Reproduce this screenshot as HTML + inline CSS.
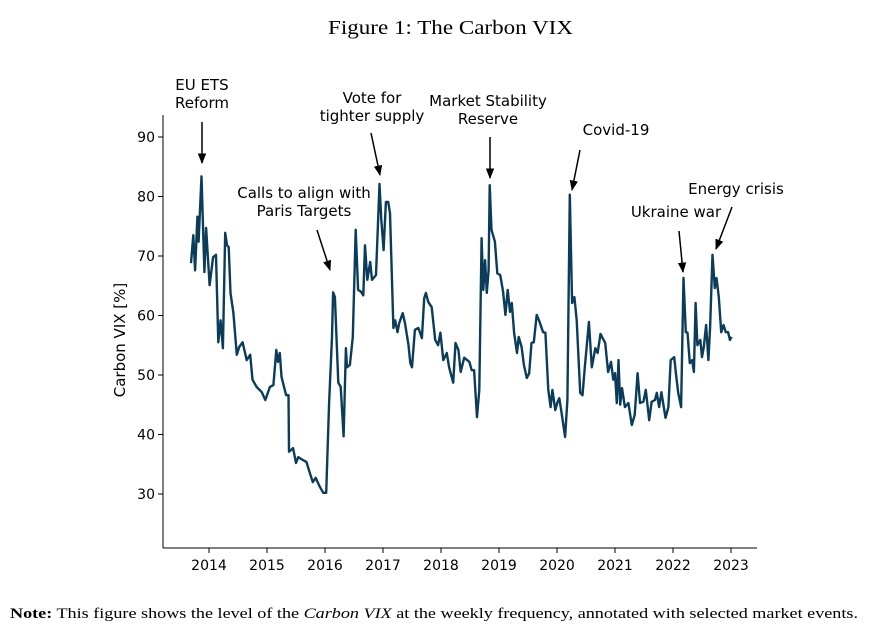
<!DOCTYPE html>
<html><head><meta charset="utf-8"><style>
body{margin:0;background:#fff;width:884px;height:631px;overflow:hidden}
svg text{font-family:"DejaVu Sans","Liberation Sans",sans-serif}
</style></head><body>
<svg id="chart" width="884" height="631" xmlns="http://www.w3.org/2000/svg">
<defs><marker id="ah" viewBox="0 0 10 10" refX="9" refY="5" markerWidth="7" markerHeight="7" orient="auto"><path d="M0,1 L10,5 L0,9 z" fill="#000"/></marker></defs>
<text x="328" y="34" textLength="245" lengthAdjust="spacingAndGlyphs" font-size="20" style="font-family:'Liberation Serif',serif">Figure 1: The Carbon VIX</text>
<g id="axes"></g>
<path id="line" fill="none" stroke="#0b3d5b" stroke-width="2.4" stroke-linejoin="round"/>
<g id="ann" font-size="15" fill="#000" text-anchor="middle"></g>
<text transform="translate(125,340) rotate(-90)" text-anchor="middle" font-size="15">Carbon VIX [%]</text>
<text x="10" y="618" textLength="848" lengthAdjust="spacingAndGlyphs" font-size="15" style="font-family:'Liberation Serif',serif"><tspan font-weight="bold">Note:</tspan> This figure shows the level of the <tspan font-style="italic">Carbon VIX</tspan> at the weekly frequency, annotated with selected market events.</text>
</svg>
<script>
const dates=[2013.69,2013.73,2013.76,2013.80,2013.82,2013.87,2013.92,2013.95,2014.01,2014.07,2014.12,2014.16,2014.20,2014.24,2014.28,2014.31,2014.34,2014.37,2014.42,2014.48,2014.52,2014.58,2014.65,2014.71,2014.75,2014.82,2014.91,2014.97,2015.05,2015.11,2015.16,2015.19,2015.22,2015.25,2015.33,2015.37,2015.38,2015.45,2015.50,2015.54,2015.62,2015.68,2015.74,2015.79,2015.84,2015.91,2015.97,2016.02,2016.07,2016.12,2016.14,2016.17,2016.23,2016.27,2016.32,2016.36,2016.38,2016.43,2016.48,2016.53,2016.57,2016.62,2016.66,2016.69,2016.73,2016.78,2016.81,2016.88,2016.94,2016.97,2017.01,2017.05,2017.09,2017.12,2017.18,2017.21,2017.25,2017.28,2017.34,2017.38,2017.44,2017.47,2017.50,2017.55,2017.61,2017.67,2017.71,2017.74,2017.78,2017.84,2017.90,2017.95,2017.99,2018.04,2018.10,2018.14,2018.21,2018.25,2018.30,2018.34,2018.40,2018.49,2018.53,2018.57,2018.62,2018.66,2018.70,2018.73,2018.76,2018.79,2018.82,2018.84,2018.87,2018.93,2018.97,2019.02,2019.07,2019.11,2019.15,2019.19,2019.22,2019.26,2019.31,2019.34,2019.39,2019.43,2019.48,2019.52,2019.56,2019.60,2019.65,2019.69,2019.76,2019.80,2019.85,2019.89,2019.92,2019.97,2020.01,2020.04,2020.08,2020.14,2020.18,2020.22,2020.26,2020.30,2020.34,2020.40,2020.44,2020.48,2020.55,2020.60,2020.66,2020.70,2020.75,2020.83,2020.88,2020.93,2020.97,2021.00,2021.03,2021.06,2021.09,2021.12,2021.17,2021.23,2021.29,2021.34,2021.39,2021.43,2021.49,2021.53,2021.59,2021.63,2021.69,2021.72,2021.76,2021.80,2021.87,2021.92,2021.96,2022.02,2022.05,2022.09,2022.14,2022.18,2022.22,2022.25,2022.29,2022.33,2022.36,2022.39,2022.42,2022.47,2022.50,2022.53,2022.57,2022.61,2022.64,2022.68,2022.72,2022.75,2022.79,2022.83,2022.87,2022.91,2022.95,2022.98,2023.01];
const vix=[68.8,73.5,67.6,76.6,72.4,83.4,67.3,74.7,65.1,69.8,70.2,55.5,59.2,54.5,73.9,71.8,71.5,63.8,60.4,53.4,54.7,55.5,52.5,53.4,49.2,48.0,47.1,45.8,48.0,48.3,54.2,52.2,53.7,49.7,46.6,46.6,37.1,37.7,35.2,36.2,35.7,35.4,33.5,32.0,32.7,31.2,30.2,30.2,45.3,56.4,63.9,63.1,48.7,48.0,39.7,54.5,51.3,51.7,56.4,74.4,64.3,64.0,63.4,71.8,66.0,69.0,66.0,66.8,82.1,76.1,71.0,79.1,79.1,77.2,57.9,59.2,57.2,58.7,60.4,58.7,55.0,52.0,51.3,57.6,57.9,56.2,62.9,63.8,62.3,61.4,55.9,55.0,57.1,52.5,53.7,51.3,48.7,55.4,54.2,50.5,52.9,52.2,50.8,50.8,42.9,47.5,73.0,64.3,69.3,63.8,67.6,81.9,74.4,72.4,67.1,66.8,64.0,60.1,64.3,60.6,62.1,57.1,53.7,56.4,54.7,51.7,49.5,50.3,55.4,55.5,60.1,59.2,57.2,57.1,47.5,44.6,47.5,44.1,45.5,46.1,43.6,39.6,45.8,80.3,62.1,63.1,59.2,47.0,46.6,51.3,58.9,51.3,54.5,53.7,56.9,55.4,50.5,52.2,49.2,50.3,45.3,52.5,45.0,47.8,44.6,45.3,41.6,43.3,50.3,45.3,45.5,47.5,42.4,45.5,45.8,47.0,44.6,47.1,42.8,44.6,52.5,53.0,50.3,47.0,44.6,66.3,57.2,57.1,52.0,52.5,50.5,62.1,55.0,55.9,53.0,54.7,58.4,52.5,58.0,70.2,64.6,66.3,63.1,57.2,58.4,57.2,57.2,55.9,56.4];
const xTicks=[2014,2015,2016,2017,2018,2019,2020,2021,2022,2023];
const yTicks=[30,40,50,60,70,80,90];
const X0=163,X1=757,Y0=548,YT=115;
const xMin=2013.207,xMax=2023.448,yMin=20.92,yMax=93.7;
const xs=v=>X0+(v-xMin)/(xMax-xMin)*(X1-X0);
const ys=v=>Y0-(v-yMin)/(yMax-yMin)*(Y0-YT);
const NS='http://www.w3.org/2000/svg';
const ax=document.getElementById('axes');
function mk(t,a,p){const e=document.createElementNS(NS,t);for(const k in a)e.setAttribute(k,a[k]);(p||ax).appendChild(e);return e;}
const ysp=mk('line',{x1:X0,y1:YT,x2:X0,y2:Y0,stroke:'#000','stroke-width':1});


const xsp=mk('line',{x1:X0,y1:Y0,x2:X1,y2:Y0,stroke:'#000','stroke-width':1});


xTicks.forEach(t=>{const x=xs(t);
mk('line',{x1:x,y1:Y0,x2:x,y2:Y0+5,stroke:'#000'});
const l=mk('text',{x:x,y:Y0+22,'text-anchor':'middle','font-size':14});l.textContent=t;

});
yTicks.forEach(t=>{const y=ys(t);
mk('line',{x1:X0-5,y1:y,x2:X0,y2:y,stroke:'#000'});
const l=mk('text',{x:X0-8,y:y+5,'text-anchor':'end','font-size':14});l.textContent=t;

});
document.getElementById('line').setAttribute('d',dates.map((d,i)=>(i?'L':'M')+xs(d).toFixed(1)+','+ys(vix[i]).toFixed(1)).join(''));
const ann=document.getElementById('ann');
const anns=[
 {lines:['EU ETS','Reform'],tx:202,ty:90,a:[202,122,202,163],n:'eu-ets-reform'},
 {lines:['Calls to align with','Paris Targets'],tx:304,ty:198,a:[317,230,330,270],n:'paris-targets'},
 {lines:['Vote for','tighter supply'],tx:372,ty:103,a:[371,133,380,175],n:'vote-tighter-supply'},
 {lines:['Market Stability','Reserve'],tx:488,ty:106,a:[490,137,490,178],n:'market-stability-reserve'},
 {lines:['Covid-19'],tx:616,ty:135,a:[580,150,572,190],n:'covid-19'},
 {lines:['Energy crisis'],tx:736,ty:194,a:[732,207,716,249],n:'energy-crisis'},
 {lines:['Ukraine war'],tx:676,ty:217,a:[679,231,683,272],n:'ukraine-war'}];
anns.forEach(o=>{const t=mk('text',{x:o.tx,y:o.ty},ann);


o.lines.forEach((s,i)=>{const ts=mk('tspan',{x:o.tx,dy:i?18:0},t);ts.textContent=s;});
const ar=mk('line',{x1:o.a[0],y1:o.a[1],x2:o.a[2],y2:o.a[3],stroke:'#000','stroke-width':1.5,'marker-end':'url(#ah)'},ann);

});
</script>
</body></html>
